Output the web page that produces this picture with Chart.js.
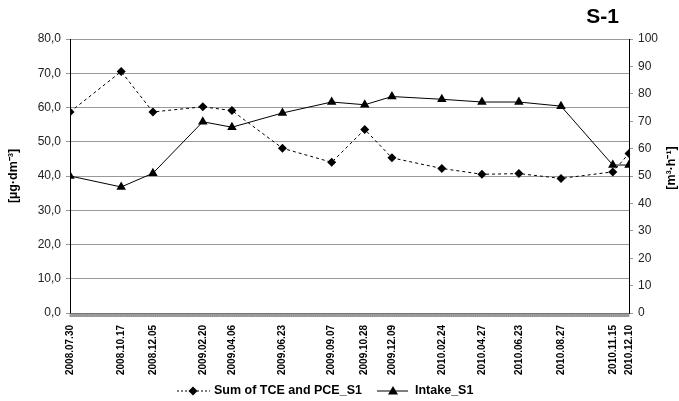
<!DOCTYPE html>
<html>
<head>
<meta charset="utf-8">
<script src="https://cdn.jsdelivr.net/npm/chart.js@4.4.1/dist/chart.umd.min.js"></script>
<style>
    body { margin: 0; background: #fff; }
    #wrap { width: 679px; height: 401px; }
</style>
</head>
<body>
<div id="wrap"><canvas id="s1Chart" width="679" height="401"></canvas></div>
<script>
// sampling dates (x axis labels)
const dates = ['2008.07.30', '2008.10.17', '2008.12.05', '2009.02.20', '2009.04.06', '2009.06.23',
    '2009.09.07', '2009.10.28', '2009.12.09', '2010.02.24', '2010.04.27', '2010.06.23',
    '2010.08.27', '2010.11.15', '2010.12.10'];
// Sum of TCE and PCE_S1 [ug/dm3], left axis
const sumTcePce = [58.7, 70.5, 58.7, 60.2, 59.1, 48.1, 44.0, 53.6, 45.3, 42.2, 40.5, 40.7, 39.3, 41.2, 46.6];
// Intake_S1 [m3/h], right axis
const intake = [50.0, 46.0, 51.0, 69.8, 67.8, 73.0, 77.0, 76.0, 79.0, 78.0, 77.0, 77.0, 75.5, 54.0, 54.0];
const leftTicks = [0, 10, 20, 30, 40, 50, 60, 70, 80];
const rightTicks = [0, 10, 20, 30, 40, 50, 60, 70, 80, 90, 100];

// dates -> day number from first sample
function toDay(s) {
    const p = s.split('.');
    return Date.UTC(+p[0], +p[1] - 1, +p[2]);
}
const t0 = toDay(dates[0]);
const days = dates.map(d => Math.round((toDay(d) - t0) / 86400000));
const lastDay = days[days.length - 1];

const FONT = '"Liberation Sans", Arial, sans-serif';

const extras = {
    id: 'extras',
    afterDraw(chart) {
        const ctx = chart.ctx;
        const x = chart.scales.x;
        const area = chart.chartArea;
        ctx.save();
        // daily tick marks under the x axis
        ctx.strokeStyle = '#6e6e6e';
        ctx.lineWidth = 0.6;
        ctx.beginPath();
        for (let d = 0; d <= lastDay; d++) {
            const px = x.getPixelForValue(d);
            ctx.moveTo(px, area.bottom);
            ctx.lineTo(px, area.bottom + 4);
        }
        ctx.stroke();

        // title
        ctx.fillStyle = '#000';
        ctx.font = 'bold 21px ' + FONT;
        ctx.textAlign = 'right';
        ctx.textBaseline = 'middle';
        ctx.fillText('S-1', 619, 17);

        // axis titles, both reading bottom to top
        const midY = (area.top + area.bottom) / 2;
        ctx.font = 'bold 12.5px ' + FONT;
        ctx.textAlign = 'center';
        [[14, midY, '[µg·dm⁻³]'], [672, midY - 8, '[m³·h⁻¹]']].forEach(([tx, ty, txt]) => {
            ctx.save();
            ctx.translate(tx, ty);
            ctx.rotate(-Math.PI / 2);
            ctx.fillText(txt, 0, 0);
            ctx.restore();
        });

        // legend
        const ly = 391;
        ctx.strokeStyle = '#000';
        ctx.lineWidth = 1;
        ctx.setLineDash([2, 2]);
        ctx.beginPath();
        ctx.moveTo(177, ly); ctx.lineTo(210, ly);
        ctx.stroke();
        ctx.setLineDash([]);
        ctx.beginPath();
        ctx.moveTo(193, ly - 4.5); ctx.lineTo(197.5, ly);
        ctx.lineTo(193, ly + 4.5); ctx.lineTo(188.5, ly);
        ctx.closePath(); ctx.fill();
        ctx.beginPath();
        ctx.moveTo(377, ly); ctx.lineTo(408, ly);
        ctx.stroke();
        ctx.beginPath();
        ctx.moveTo(393, ly - 5); ctx.lineTo(398, ly + 3.5); ctx.lineTo(388, ly + 3.5);
        ctx.closePath(); ctx.fill();
        ctx.font = 'bold 12.5px ' + FONT;
        ctx.textAlign = 'left';
        ctx.fillText('Sum of TCE and PCE_S1', 214, ly);
        ctx.fillText('Intake_S1', 415, ly);
        ctx.restore();
    }
};

const canvas = document.getElementById('s1Chart').getContext('2d');
const s1Chart = new Chart(canvas, {
    type: 'line',
    data: {
        datasets: [{
            label: 'Sum of TCE and PCE_S1',
            data: days.map((d, i) => ({ x: d, y: sumTcePce[i] })),
            yAxisID: 'y',
            borderColor: '#000',
            backgroundColor: '#000',
            borderWidth: 1,
            borderDash: [3, 3],
            pointStyle: 'rectRot',
            pointRadius: 4.5,
            pointBorderWidth: 0,
            tension: 0
        }, {
            label: 'Intake_S1',
            data: days.map((d, i) => ({ x: d, y: intake[i] })),
            yAxisID: 'y1',
            borderColor: '#000',
            backgroundColor: '#000',
            borderWidth: 1,
            pointStyle: 'triangle',
            pointRadius: 5.5,
            pointBorderWidth: 0,
            tension: 0
        }]
    },
    options: {
        responsive: false,
        animation: false,
        devicePixelRatio: 1,
        layout: { padding: { top: 39, left: 0, right: 0, bottom: 0 } },
        plugins: { legend: { display: false }, tooltip: { enabled: false } },
        scales: {
            x: {
                type: 'linear',
                min: 0,
                max: lastDay,
                afterFit: s => { s.height = 88; },
                afterBuildTicks: s => { s.ticks = days.map(v => ({ value: v })); },
                grid: { display: false },
                border: { display: true, color: '#888', width: 1 },
                ticks: {
                    autoSkip: false,
                    minRotation: 90,
                    maxRotation: 90,
                    padding: 4,
                    color: '#000',
                    font: { family: FONT, size: 10, weight: 'bold' },
                    callback: v => dates[days.indexOf(v)]
                }
            },
            y: {
                position: 'left',
                min: 0,
                max: 80,
                afterFit: s => { s.width = 70; },
                afterBuildTicks: s => { s.ticks = leftTicks.map(v => ({ value: v })); },
                grid: { color: '#999', tickLength: 4, lineWidth: 1 },
                border: { color: '#000', width: 1 },
                ticks: {
                    padding: 5,
                    color: '#222',
                    font: { family: FONT, size: 12 },
                    callback: v => v.toFixed(1).replace('.', ',')
                }
            },
            y1: {
                position: 'right',
                min: 0,
                max: 100,
                afterFit: s => { s.width = 50; },
                afterBuildTicks: s => { s.ticks = rightTicks.map(v => ({ value: v })); },
                grid: { drawOnChartArea: false, color: '#999', tickLength: 4 },
                border: { color: '#000', width: 1 },
                ticks: {
                    padding: 5,
                    color: '#222',
                    font: { family: FONT, size: 12 },
                    callback: v => String(v)
                }
            }
        }
    },
    plugins: [extras]
});
</script>
</body>
</html>
